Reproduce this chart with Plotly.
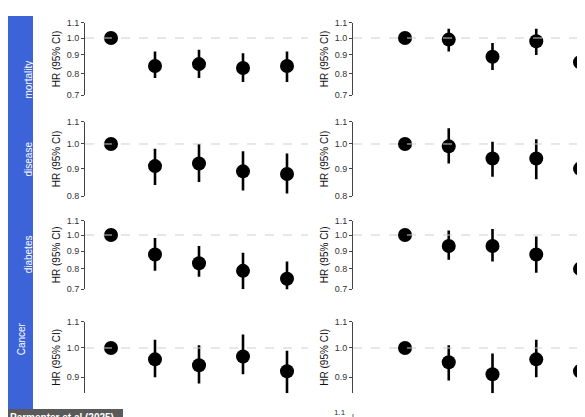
import math
import plotly.graph_objects as go

# ---- data ----
row_labels = ["mortality", "disease", "diabetes", "Cancer"]
groups = [0, 1, 2, 3, 4]
# [row][col] -> HR, low, high
hr = [
    [[1.00, 0.84, 0.85, 0.83, 0.84], [1.00, 0.99, 0.89, 0.98, 0.86]],
    [[1.00, 0.91, 0.92, 0.89, 0.88], [1.00, 0.99, 0.94, 0.94, 0.90]],
    [[1.00, 0.88, 0.83, 0.79, 0.75], [1.00, 0.93, 0.93, 0.88, 0.80]],
    [[1.00, 0.96, 0.94, 0.97, 0.92], [1.00, 0.95, 0.91, 0.96, 0.92]],
]
lo = [
    [[1.00, 0.78, 0.78, 0.76, 0.76], [1.00, 0.92, 0.82, 0.90, 0.78]],
    [[1.00, 0.84, 0.85, 0.82, 0.81], [1.00, 0.92, 0.87, 0.86, 0.82]],
    [[1.00, 0.79, 0.76, 0.70, 0.66], [1.00, 0.85, 0.84, 0.78, 0.70]],
    [[1.00, 0.90, 0.88, 0.91, 0.85], [1.00, 0.89, 0.85, 0.90, 0.85]],
]
hi = [
    [[1.00, 0.92, 0.93, 0.91, 0.92], [1.00, 1.06, 0.97, 1.06, 0.95]],
    [[1.00, 0.98, 1.00, 0.97, 0.96], [1.00, 1.07, 1.01, 1.02, 0.98]],
    [[1.00, 0.98, 0.93, 0.89, 0.84], [1.00, 1.03, 1.04, 0.99, 0.91]],
    [[1.00, 1.03, 1.01, 1.05, 0.99], [1.00, 1.01, 0.98, 1.03, 0.99]],
]
row_ticks = [[0.7, 0.8, 0.9, 1.0, 1.1], [0.8, 0.9, 1.0, 1.1],
             [0.7, 0.8, 0.9, 1.0, 1.1], [0.9, 1.0, 1.1]]
source = "Parmenter et al (2025)"

# ---- layout geometry (pixels) ----
W, H = 585, 417
row_geom = [(30, 370, 0.7), (136, 540, 0.8), (227, 350, 0.7), (340, 640, 0.85)]
col_geom = [(77, 103, 44, 300), (345, 397, 43.75, 585)]  # axis x, first pt, step, right end

def py(y):
    return 1 - y / H

def px(x):
    return x / W

fig = go.Figure()
layout = {}
shapes = []
annotations = []
k = 0
for r in range(4):
    y1, s, bot = row_geom[r]
    ytop = y1 - math.log10(1.1) * s
    ybot = y1 - math.log10(bot) * s
    for c in range(2):
        k += 1
        ax, p0, step, xr = col_geom[c]
        xs = "" if k == 1 else str(k)
        h = hr[r][c]
        fig.add_trace(go.Scatter(
            x=groups, y=h, mode="markers", xaxis="x" + xs, yaxis="y" + xs,
            marker=dict(color="black", size=14),
            error_y=dict(type="data", symmetric=False,
                         array=[a - b for a, b in zip(hi[r][c], h)],
                         arrayminus=[b - a for a, b in zip(lo[r][c], h)],
                         color="black", thickness=2.6, width=0),
            cliponaxis=False, showlegend=False))
        layout["xaxis" + xs] = dict(domain=[px(ax), px(xr)],
                                    range=[(ax - p0) / step, (xr - p0) / step],
                                    visible=False, anchor="y" + xs)
        layout["yaxis" + xs] = dict(
            domain=[py(ybot), py(ytop)], type="log",
            range=[math.log10(bot), math.log10(1.1)],
            anchor="x" + xs, tickvals=row_ticks[r],
            ticktext=["%.1f" % t for t in row_ticks[r]],
            showline=True, linecolor="#444", linewidth=0.8,
            ticks="outside", ticklen=3, tickcolor="#444",
            tickfont=dict(size=9, color="#333"), showgrid=False, zeroline=False,
            title=dict(text="HR (95% CI)", font=dict(size=10, color="#111"), standoff=4))
        shapes.append(dict(type="line", xref="paper", yref="y" + xs,
                           x0=px(ax), x1=px(xr), y0=1.0, y1=1.0, layer="above",
                           line=dict(color="#cfcfcf", width=1, dash="dash")))
    annotations.append(dict(text=row_labels[r], xref="paper", yref="paper",
                            x=px(13 if r < 3 else 6), y=py((ytop + ybot) / 2),
                            textangle=-90, showarrow=False,
                            font=dict(size=10, color="white")))

# blue label strip
shapes.append(dict(type="rect", xref="paper", yref="paper", x0=0, x1=px(25),
                   y0=py(401), y1=py(8), fillcolor="#3d63d8", line=dict(width=0),
                   layer="below"))
# partial next-row axis fragments
annotations.append(dict(text="1.1", xref="paper", yref="paper", x=px(340), y=py(411),
                        xanchor="right", showarrow=False, font=dict(size=8, color="#333")))
shapes.append(dict(type="line", xref="paper", yref="paper", x0=px(345), x1=px(345),
                   y0=0, y1=py(406), line=dict(color="#444", width=0.8)))
# source box
shapes.append(dict(type="rect", xref="paper", yref="paper", x0=0, x1=px(115),
                   y0=0, y1=py(401), fillcolor="#5a5a5a", line=dict(width=0)))
annotations.append(dict(text="<b>" + source + "</b>", xref="paper", yref="paper",
                        x=0, y=py(409), xanchor="left", yanchor="middle",
                        showarrow=False, font=dict(size=10, color="white",
                                                   family="Liberation Sans Narrow, Arial")))

fig.update_layout(width=W, height=H,
                  margin=dict(l=0, r=0, t=0, b=0, autoexpand=False),
                  plot_bgcolor="white", paper_bgcolor="white",
                  font=dict(family="Liberation Sans, Arial"),
                  shapes=shapes, annotations=annotations, **layout)
fig.write_html("out.html")
